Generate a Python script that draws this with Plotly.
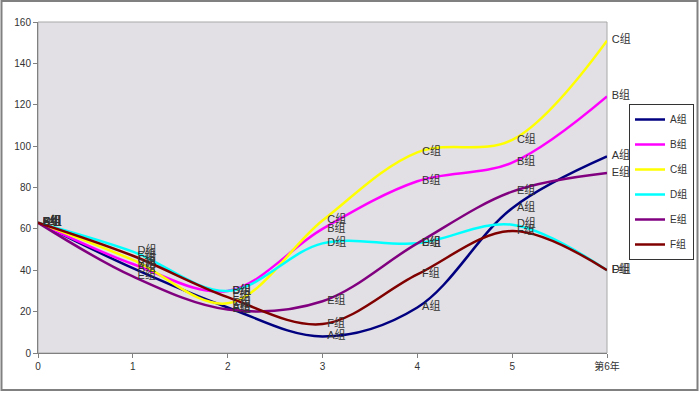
import plotly.graph_objects as go

x_vals = [0, 1, 2, 3, 4, 5, 6]
tick_text = ["0", "1", "2", "3", "4", "5", "第6年"]
series_names = ["A组", "B组", "C组", "D组", "E组", "F组"]
A = [63, 41, 22, 8, 22, 70, 95]
B = [63, 43, 30, 60, 83, 92, 124]
C = [63, 45, 24, 64, 97, 103, 151]
D = [63, 49, 30, 53, 53, 62, 40]
E = [63, 37, 21, 25, 53, 78, 87]
F = [63, 47, 27, 14, 38, 59, 40]
colors = ["#000080", "#FF00FF", "#FFFF00", "#00FFFF", "#800080", "#800000"]

W, H = 700, 393
L, R, T, Bm = 38, 607, 22, 353

def px(xp):
    return (xp - L) / (R - L)

def py(yp):
    return (Bm - yp) / (Bm - T)

font_fam = "Liberation Sans, Arial, Noto Sans CJK SC, sans-serif"

fig = go.Figure()
all_vals = [A, B, C, D, E, F]
for name, vals, col in zip(series_names, all_vals, colors):
    fig.add_trace(go.Scatter(
        x=x_vals, y=vals, name=name, legendgroup=name,
        mode="lines",
        line=dict(color=col, width=2.5, shape="spline", smoothing=1.0),
        cliponaxis=False,
    ))
for name, vals, col in zip(series_names, all_vals, colors):
    fig.add_trace(go.Scatter(
        x=x_vals, y=vals, name=name, legendgroup=name, showlegend=False,
        mode="markers+text",
        marker=dict(size=6, opacity=0, color=col),
        text=[name] * len(vals),
        textposition="middle right",
        textfont=dict(size=11, color="#333333", family=font_fam),
        cliponaxis=False, hoverinfo="skip",
    ))

fig.update_layout(
    width=W, height=H,
    margin=dict(l=L, r=W - R, t=T, b=H - Bm, pad=0, autoexpand=False),
    paper_bgcolor="white",
    plot_bgcolor="#E2E0E4",
    font=dict(family=font_fam, size=10, color="#333333"),
    showlegend=True,
    legend=dict(
        x=px(629), y=py(104), xanchor="left", yanchor="top",
        bgcolor="white", bordercolor="#333333", borderwidth=1,
        font=dict(size=10, color="#333333", family=font_fam),
        itemwidth=30, tracegroupgap=6,
    ),
    xaxis=dict(
        range=[0, 6], tickvals=x_vals, ticktext=tick_text,
        showgrid=False, zeroline=False, automargin=False,
        showline=True, linecolor="#808080", linewidth=1,
        ticks="outside", ticklen=4, tickcolor="#808080",
        tickfont=dict(size=10, color="#333333"),
    ),
    yaxis=dict(
        range=[0, 160], dtick=20,
        showgrid=False, zeroline=False, automargin=False,
        showline=True, linecolor="#808080", linewidth=1,
        ticks="outside", ticklen=4, tickcolor="#808080",
        tickfont=dict(size=10, color="#333333"),
    ),
    shapes=[
        dict(type="rect", xref="paper", yref="paper",
             x0=0, x1=1, y0=0, y1=1,
             line=dict(color="#A8A8A8", width=1), layer="below"),
        dict(type="rect", xref="paper", yref="paper",
             x0=px(1.5), x1=px(697.5), y0=py(390), y1=py(1),
             line=dict(color="#808080", width=2)),
    ],
)

fig.write_html(
    "out.html",
    config={"displayModeBar": False},
    post_script="document.body.style.margin='0';document.body.style.padding='0';",
)
